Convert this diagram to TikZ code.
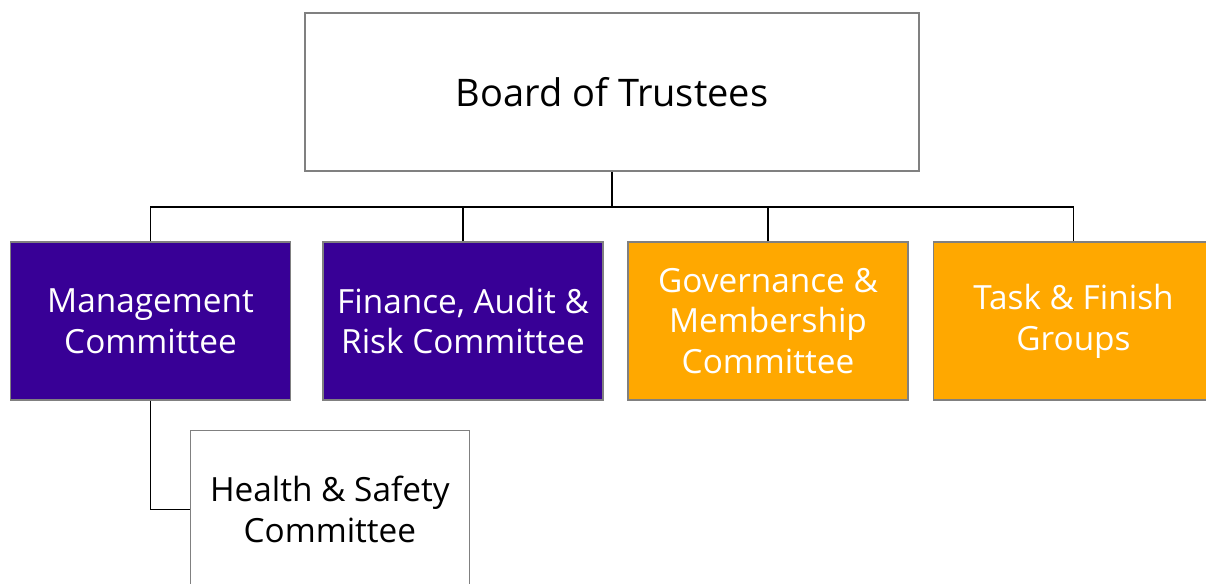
\documentclass[tikz,border=0pt]{standalone}
\usepackage{fontspec}
\setmainfont{Open Sans}
\usepackage{tikz}
\usetikzlibrary{positioning}

\definecolor{trustpurple}{RGB}{56,0,150}
\definecolor{trustorange}{RGB}{255,168,0}

\begin{document}
\begin{tikzpicture}[x=0.75pt, y=-0.75pt,
    box/.style={draw=black!50, line width=0.8pt, minimum width=210pt, minimum height=118.5pt,
        align=center, font=\fontsize{25}{30.5}\selectfont, inner sep=0pt},
    purplebox/.style={box, fill=trustpurple, text=white},
    orangebox/.style={box, fill=trustorange, text=white},
    plainbox/.style={box, fill=white, text=black},
    link/.style={draw=black, line width=1.1pt},
    ]
    \useasboundingbox (0,0) rectangle (1206,583);

    \node[plainbox, minimum width=460.5pt, font=\fontsize{28.5}{30}\selectfont] (board) at (612,92) {Board of Trustees};

    \node[purplebox] (mgmt) at (150.5,321) {Management\\Committee};
    \node[purplebox] (finance) at (463,321) {Finance, Audit \&\\Risk Committee};
    \node[orangebox] (gov) at (768,321) {Governance \&\\Membership\\Committee};
    \node[orangebox] (task) at (1073.5,321) {Task \& Finish\\Groups};

    \node[plainbox, anchor=north west, minimum width=209pt] (health) at (190,430) {Health \& Safety\\Committee};

    \coordinate (bus) at (612,207);

    \draw[link] (board.south) -- (bus);
    \draw[link] (mgmt.north) |- (bus) -| (task.north);
    \draw[link] (finance.north) -- (finance.north |- bus);
    \draw[link] (gov.north) -- (gov.north |- bus);
    \draw[link] (mgmt.south) |- (health.west);
\end{tikzpicture}
\end{document}
